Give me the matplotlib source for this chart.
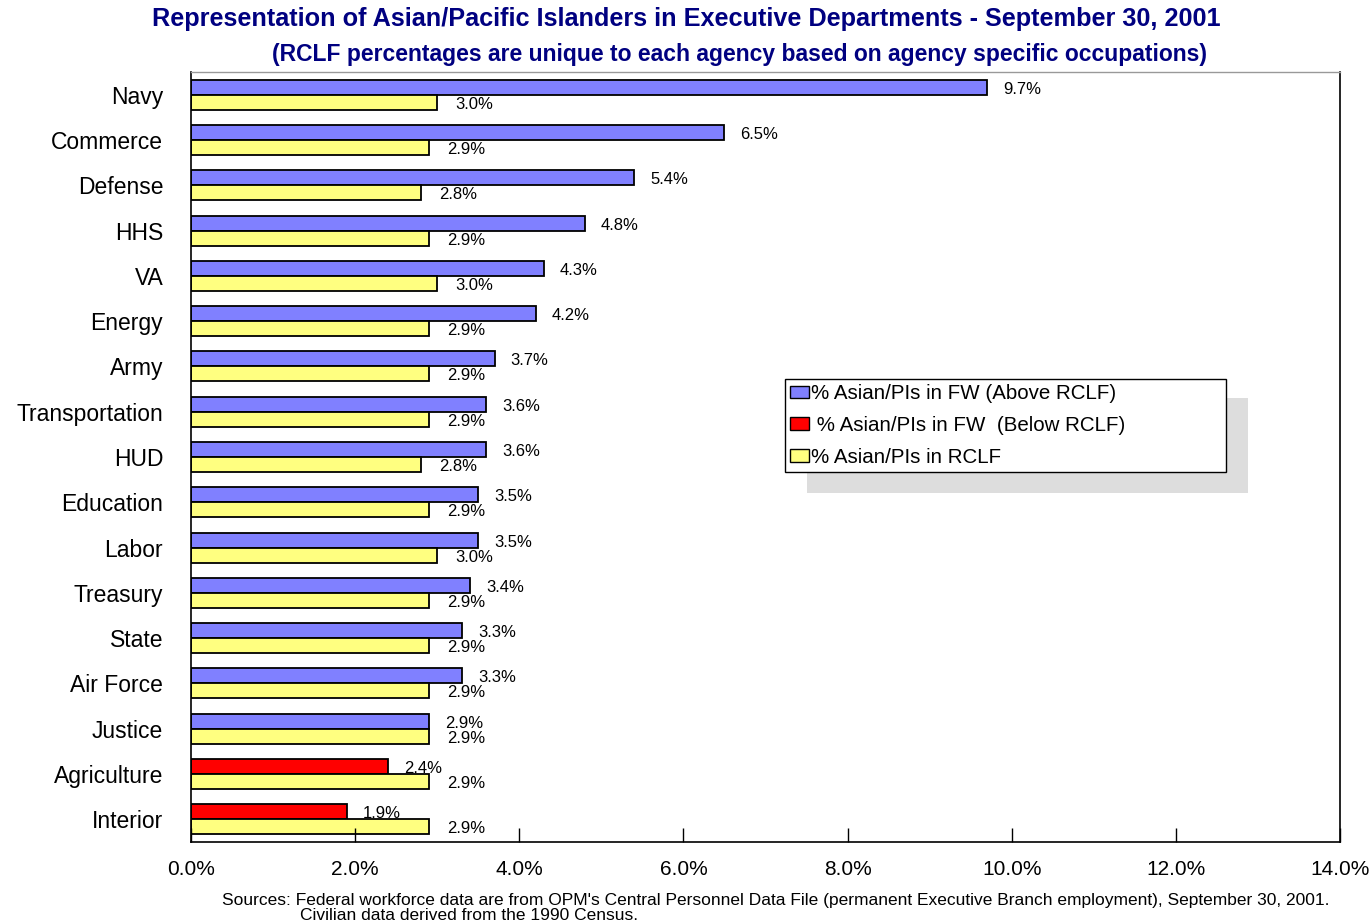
import matplotlib
matplotlib.use("Agg")
import matplotlib.pyplot as plt
from matplotlib.patches import Patch, Rectangle
import numpy as np

plt.rcParams['font.family'] = ['Liberation Sans', 'DejaVu Sans']

agencies = ["Navy", "Commerce", "Defense", "HHS", "VA", "Energy", "Army",
            "Transportation", "HUD", "Education", "Labor", "Treasury", "State",
            "Air Force", "Justice", "Agriculture", "Interior"]
fw_pct = [9.7, 6.5, 5.4, 4.8, 4.3, 4.2, 3.7, 3.6, 3.6, 3.5, 3.5, 3.4, 3.3, 3.3, 2.9, 2.4, 1.9]
rclf_pct = [3.0, 2.9, 2.8, 2.9, 3.0, 2.9, 2.9, 2.9, 2.8, 2.9, 3.0, 2.9, 2.9, 2.9, 2.9, 2.9, 2.9]
xticks = [0, 2, 4, 6, 8, 10, 12, 14]

BLUE = "#8080FF"
RED = "#FF0000"
YELLOW = "#FFFF80"
NAVY = "#000080"

fig = plt.figure(figsize=(13.72, 9.24), dpi=100)
ax = fig.add_axes([191/1372, 1-842/924, (1340-191)/1372, (842-72)/924])

y = np.arange(len(agencies))
h = 0.331
fw_colors = [BLUE if f >= r else RED for f, r in zip(fw_pct, rclf_pct)]
ax.barh(y - h/2, fw_pct, height=h, color=fw_colors, edgecolor="black", linewidth=1.3)
ax.barh(y + h/2, rclf_pct, height=h, color=YELLOW, edgecolor="black", linewidth=1.3)

for yi, f, r in zip(y, fw_pct, rclf_pct):
    ax.annotate(f"{f:.1f}%", (f, yi - h/2), xytext=(16, -2), textcoords="offset pixels",
                ha="left", va="center", fontsize=12)
    ax.annotate(f"{r:.1f}%", (r, yi + h/2), xytext=(18, -2), textcoords="offset pixels",
                ha="left", va="center", fontsize=12)

ax.set_xlim(0, 14)
ax.set_ylim(len(agencies) - 0.5, -0.5)
ax.set_xticks(xticks)
ax.set_xticklabels([f"{t:.1f}%" for t in xticks], fontsize=15)
ax.tick_params(axis="x", direction="in", length=10, width=1, pad=13)
ax.set_yticks(y)
ax.set_yticklabels(agencies, fontsize=16.5)
ax.tick_params(axis="y", length=0, pad=20)
for s in ["left", "bottom", "right"]:
    ax.spines[s].set_color("black")
    ax.spines[s].set_linewidth(1.2)
ax.spines["top"].set_color("#999999")
ax.spines["top"].set_linewidth(1)

# legend with shadow
leg_x0, leg_x1, leg_y0, leg_y1 = 785, 1226, 379, 472
ax_l, ax_b = 191, 842
ax_w, ax_h = 1340 - 191, 842 - 72
def fx(px):
    return (px - ax_l) / ax_w
def fy(py):
    return (ax_b - py) / ax_h
ax.add_patch(Rectangle((fx(807), fy(493)), fx(1248) - fx(807), fy(398) - fy(493),
                       transform=ax.transAxes, facecolor="#DDDDDD", edgecolor="none",
                       zorder=4, clip_on=False))
handles = [Patch(facecolor=BLUE, edgecolor="black"),
           Patch(facecolor=RED, edgecolor="black"),
           Patch(facecolor=YELLOW, edgecolor="black")]
labels = ["% Asian/PIs in FW (Above RCLF)", " % Asian/PIs in FW  (Below RCLF)", "% Asian/PIs in RCLF"]
leg = ax.legend(handles, labels, loc="upper left",
                bbox_to_anchor=(fx(leg_x0), fy(leg_y1), fx(leg_x1) - fx(leg_x0), fy(leg_y0) - fy(leg_y1)),
                mode="expand", fontsize=14.8, frameon=True, fancybox=False, framealpha=1,
                edgecolor="black", handlelength=0.9, handleheight=0.55, handletextpad=0.1,
                labelspacing=0.62, borderpad=0.25, borderaxespad=0)
leg.get_frame().set_linewidth(1)
leg.set_zorder(5)

fig.text(686/1372, 1 - 19/924, "Representation of Asian/Pacific Islanders in Executive Departments - September 30, 2001",
         ha="center", va="center", fontsize=18.2, fontweight="bold", color=NAVY)
fig.text(740/1372, 1 - 54/924, "(RCLF percentages are unique to each agency based on agency specific occupations)",
         ha="center", va="center", fontsize=16.5, fontweight="bold", color=NAVY)
fig.text(222/1372, 1 - 900/924,
         "Sources: Federal workforce data are from OPM's Central Personnel Data File (permanent Executive Branch employment), September 30, 2001.",
         ha="left", va="center", fontsize=12.5)
fig.text(300/1372, 1 - 915/924, "Civilian data derived from the 1990 Census.",
         ha="left", va="center", fontsize=12.5)

fig.savefig("out.png", dpi=100)
